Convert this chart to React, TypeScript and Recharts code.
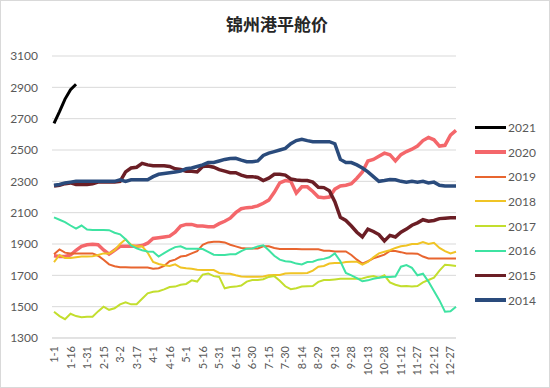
import React from 'react';
import { LineChart, Line, XAxis, YAxis, CartesianGrid } from 'recharts';

// days of year every 5 days, plus year end
const monthDays = [31, 28, 31, 30, 31, 30, 31, 31, 30, 31, 30, 31];
const dayOffsets = [...Array.from({ length: 73 }, (_, i) => i * 5), 364];
const toLabel = (n: number) => {
  let m = 0;
  while (n >= monthDays[m]) {
    n -= monthDays[m];
    m++;
  }
  return `${m + 1}-${n + 1}`;
};
const dates = dayOffsets.map(toLabel);

const yTicks = [1300, 1500, 1700, 1900, 2100, 2300, 2500, 2700, 2900, 3100];

const y2021 = [2670, 2745, 2825, 2885, 2920];
const y2020 = [1825, 1820, 1820, 1830, 1860, 1885, 1895, 1898, 1895, 1862, 1835, 1860, 1885, 1885, 1885, 1885, 1890, 1905, 1935, 1940, 1945, 1950, 1975, 2015, 2025, 2025, 2015, 2015, 2010, 2010, 2030, 2045, 2065, 2100, 2125, 2132, 2135, 2143, 2160, 2180, 2230, 2290, 2305, 2300, 2225, 2265, 2265, 2235, 2200, 2195, 2200, 2250, 2270, 2275, 2285, 2320, 2360, 2430, 2440, 2460, 2480, 2470, 2430, 2470, 2490, 2505, 2525, 2560, 2580, 2565, 2525, 2530, 2595, 2625];
const y2019 = [1835, 1865, 1845, 1840, 1840, 1840, 1840, 1840, 1825, 1800, 1770, 1758, 1752, 1752, 1750, 1750, 1750, 1750, 1742, 1745, 1760, 1790, 1800, 1820, 1825, 1840, 1855, 1895, 1910, 1915, 1915, 1910, 1895, 1885, 1875, 1872, 1872, 1872, 1885, 1885, 1875, 1868, 1868, 1868, 1868, 1866, 1866, 1866, 1866, 1857, 1857, 1852, 1852, 1852, 1830, 1800, 1775, 1790, 1808, 1820, 1832, 1856, 1855, 1848, 1840, 1840, 1838, 1820, 1808, 1808, 1808, 1808, 1808, 1808];
const y2018 = [1785, 1830, 1810, 1810, 1815, 1820, 1820, 1822, 1830, 1840, 1840, 1860, 1900, 1930, 1895, 1885, 1885, 1845, 1785, 1772, 1765, 1760, 1770, 1750, 1745, 1742, 1735, 1734, 1734, 1734, 1715, 1712, 1710, 1700, 1692, 1691, 1691, 1691, 1692, 1700, 1702, 1702, 1712, 1713, 1713, 1713, 1715, 1730, 1755, 1760, 1775, 1778, 1778, 1785, 1787, 1787, 1768, 1785, 1815, 1840, 1850, 1860, 1875, 1885, 1890, 1900, 1900, 1912, 1900, 1908, 1875, 1855, 1840, 1850];
const y2017 = [1468, 1440, 1420, 1455, 1440, 1432, 1435, 1436, 1470, 1500, 1480, 1490, 1515, 1528, 1515, 1515, 1550, 1585, 1595, 1598, 1610, 1625, 1628, 1640, 1645, 1668, 1660, 1705, 1712, 1695, 1690, 1617, 1625, 1628, 1635, 1660, 1670, 1670, 1675, 1690, 1695, 1665, 1630, 1612, 1618, 1628, 1630, 1632, 1658, 1670, 1670, 1674, 1678, 1678, 1678, 1678, 1680, 1690, 1695, 1685, 1700, 1655, 1640, 1630, 1632, 1628, 1632, 1655, 1670, 1685, 1730, 1768, 1765, 1760];
const y2016 = [2070, 2055, 2040, 2018, 1998, 2018, 1992, 1990, 1990, 1990, 1988, 1972, 1962, 1930, 1890, 1872, 1860, 1852, 1850, 1820, 1842, 1862, 1880, 1885, 1870, 1870, 1870, 1868, 1850, 1832, 1830, 1830, 1835, 1835, 1855, 1870, 1872, 1885, 1892, 1860, 1825, 1800, 1790, 1787, 1775, 1770, 1785, 1787, 1800, 1805, 1815, 1840, 1790, 1715, 1700, 1682, 1662, 1668, 1678, 1685, 1690, 1690, 1692, 1755, 1765, 1748, 1700, 1710, 1660, 1600, 1540, 1468, 1470, 1500];
const y2015 = [2270, 2275, 2285, 2290, 2280, 2280, 2280, 2285, 2295, 2295, 2295, 2295, 2300, 2360, 2385, 2390, 2415, 2405, 2400, 2400, 2400, 2395, 2380, 2375, 2365, 2365, 2360, 2395, 2398, 2390, 2375, 2365, 2355, 2355, 2340, 2330, 2330, 2325, 2305, 2320, 2345, 2345, 2340, 2315, 2308, 2305, 2305, 2295, 2262, 2260, 2240, 2170, 2070, 2050, 2015, 1975, 1945, 1995, 1980, 1960, 1920, 1955, 1945, 1975, 1995, 2020, 2035, 2055, 2045, 2050, 2062, 2065, 2068, 2068];
const y2014 = [2275, 2280, 2290, 2295, 2300, 2300, 2300, 2300, 2300, 2300, 2300, 2300, 2310, 2300, 2310, 2310, 2310, 2310, 2330, 2345, 2350, 2355, 2360, 2365, 2380, 2385, 2395, 2405, 2420, 2420, 2430, 2440, 2445, 2447, 2435, 2425, 2425, 2430, 2465, 2480, 2490, 2500, 2510, 2540, 2560, 2568, 2560, 2553, 2553, 2553, 2553, 2540, 2440, 2420, 2420, 2405, 2385, 2360, 2330, 2300, 2305, 2312, 2310, 2300, 2295, 2300, 2295, 2300, 2290, 2295, 2275, 2270, 2270, 2270];

const series = [
  { key: '2021', values: y2021, color: '#000000', width: 3 },
  { key: '2020', values: y2020, color: '#F4676B', width: 3.5 },
  { key: '2019', values: y2019, color: '#E8652F', width: 2 },
  { key: '2018', values: y2018, color: '#F0C425', width: 2 },
  { key: '2017', values: y2017, color: '#C3DE2E', width: 2 },
  { key: '2016', values: y2016, color: '#3EE3A2', width: 2 },
  { key: '2015', values: y2015, color: '#6B1E25', width: 3.5 },
  { key: '2014', values: y2014, color: '#2A4B7C', width: 3.5 },
];

const data = dates.map((d, i) => {
  const row: Record<string, string | number | null> = { date: d };
  series.forEach((s) => {
    row[s.key] = i < s.values.length ? s.values[i] : null;
  });
  return row;
});

const font = "Lato, 'Noto Sans', sans-serif";

const DateTick = (props: any) => {
  const { x, y, payload } = props;
  return (
    <g transform={`translate(${x},${y})`}>
      <text transform="rotate(-90)" textAnchor="end" dy={4} fill="#595959" fontSize={11} fontFamily={font}>
        {payload.value}
      </text>
    </g>
  );
};

export default function App() {
  return (
    <div
      style={{
        position: 'fixed',
        left: 0,
        top: 0,
        width: 548,
        height: 386,
        border: '1px solid #D9D9D9',
        background: '#fff',
      }}
    >
      <div
        style={{
          position: 'absolute',
          top: 10,
          left: 0,
          width: 552,
          textAlign: 'center',
          fontFamily: "'Noto Sans CJK SC', sans-serif",
          fontWeight: 'bold',
          fontSize: 17,
          color: '#262626',
        }}
      >
        锦州港平舱价
      </div>
      <div style={{ position: 'absolute', left: -1, top: -1 }}>
        <LineChart width={550} height={388} data={data} margin={{ top: 56, right: 94, bottom: 5, left: 0 }}>
          <CartesianGrid vertical={false} stroke="#D9D9D9" />
          <XAxis
            dataKey="date"
            interval={2}
            tick={<DateTick />}
            tickLine={false}
            axisLine={{ stroke: '#D9D9D9' }}
            height={45}
            padding={{ left: 2, right: 0 }}
          />
          <YAxis
            domain={[1300, 3100]}
            ticks={yTicks}
            width={52}
            axisLine={false}
            tickLine={false}
            tickMargin={8}
            tick={{ fill: '#595959', fontSize: 12, fontFamily: font }}
          />
          {series.map((s) => (
            <Line
              key={s.key}
              type="linear"
              dataKey={s.key}
              stroke={s.color}
              strokeWidth={s.width}
              dot={false}
              isAnimationActive={false}
              connectNulls={false}
            />
          ))}
        </LineChart>
      </div>
      <div style={{ position: 'absolute', left: 474, top: 114, fontFamily: font, fontSize: 12, color: '#595959' }}>
        {series.map((s) => (
          <div key={s.key} style={{ height: 24.7, display: 'flex', alignItems: 'center' }}>
            <div style={{ width: 31, height: s.width, background: s.color, marginRight: 2 }} />
            <span>{s.key}</span>
          </div>
        ))}
      </div>
    </div>
  );
}
